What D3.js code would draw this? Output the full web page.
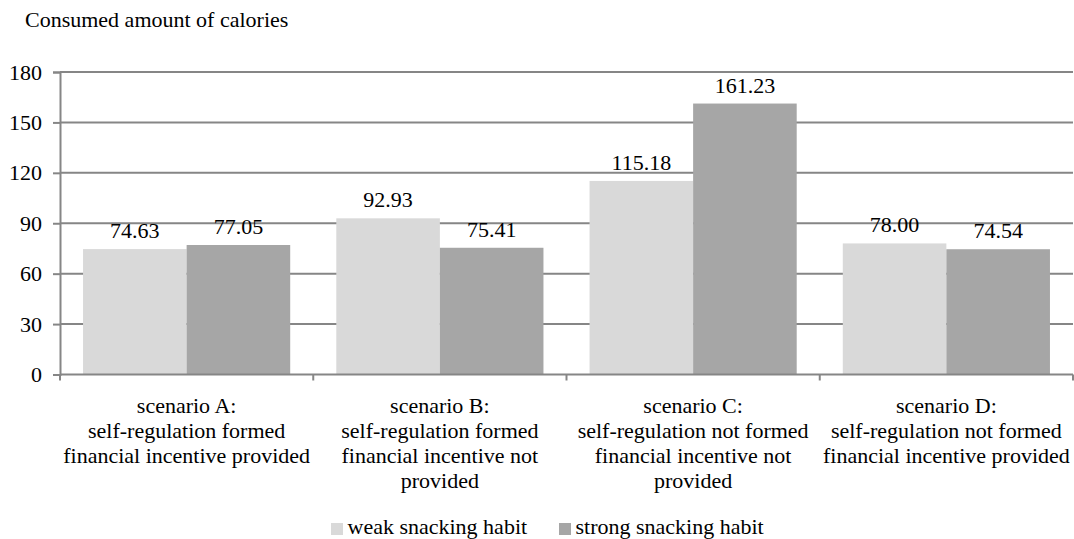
<!DOCTYPE html>
<html>
<head>
<meta charset="utf-8">
<script src="https://cdn.jsdelivr.net/npm/d3@7"></script>
<style>
  html, body { margin: 0; padding: 0; background: #fff; }
</style>
</head>
<body>
<svg id="chart" width="1074" height="539"></svg>
<script>
// Scenario categories (each label split into lines)
const categories = ["A", "B", "C", "D"];
const categoryLabels = [
  ["scenario A:", "self-regulation formed", "financial incentive provided"],
  ["scenario B:", "self-regulation formed", "financial incentive not", "provided"],
  ["scenario C:", "self-regulation not formed", "financial incentive not", "provided"],
  ["scenario D:", "self-regulation not formed", "financial incentive provided"]
];
const seriesNames = ["weak snacking habit", "strong snacking habit"];
const weakValues = [74.63, 92.93, 115.18, 78.00];
const strongValues = [77.05, 75.41, 161.23, 74.54];
const yTicks = [0, 30, 60, 90, 120, 150, 180];
const seriesColors = ["#d9d9d9", "#a6a6a6"];
const axisColor = "#868686";

const FONT = "'Liberation Serif'";
const fontSize = 22;
const svg = d3.select("#chart");
const plotLeft = 60, plotRight = 1073, plotTop = 72, plotBottom = 374.5;

const styleText = sel => sel.style("font-family", FONT).style("font-size", fontSize + "px").attr("fill", "#000");

const x0 = d3.scaleBand().domain(categories).range([plotLeft, plotRight]).padding(0);
const bw = x0.bandwidth();
const x1 = d3.scaleBand().domain(seriesNames).range([bw * 0.091, bw * 0.909]).padding(0);
const y = d3.scaleLinear().domain([0, 180]).range([plotBottom, plotTop]);

// horizontal gridlines
svg.append("g")
  .selectAll("line")
  .data(yTicks.filter(t => t > 0))
  .join("line")
  .attr("x1", plotLeft).attr("x2", plotRight)
  .attr("y1", d => y(d)).attr("y2", d => y(d))
  .attr("stroke", axisColor).attr("stroke-width", 2);

// y axis
const yAxis = d3.axisLeft(y).tickValues(yTicks).tickSize(7).tickPadding(11).tickFormat(d3.format("d"));
const gy = svg.append("g").attr("transform", `translate(${plotLeft},0)`).call(yAxis);
gy.select(".domain").attr("stroke", axisColor).attr("stroke-width", 2);
gy.selectAll(".tick line").attr("stroke", axisColor).attr("stroke-width", 2);
gy.selectAll(".tick text").call(styleText);

// bars
const rows = categories.map((c, i) => ({ cat: c, vals: [weakValues[i], strongValues[i]] }));
const groups = svg.append("g").selectAll("g")
  .data(rows)
  .join("g")
  .attr("transform", d => `translate(${x0(d.cat)},0)`);

groups.selectAll("rect")
  .data(d => d.vals.map((v, j) => ({ name: seriesNames[j], v, j })))
  .join("rect")
  .attr("x", d => x1(d.name))
  .attr("width", x1.bandwidth())
  .attr("y", d => y(d.v))
  .attr("height", d => y(0) - y(d.v))
  .attr("fill", d => seriesColors[d.j]);

// value labels
groups.selectAll("text.val")
  .data(d => d.vals.map((v, j) => ({ name: seriesNames[j], v, j })))
  .join("text")
  .attr("class", "val")
  .attr("x", d => x1(d.name) + x1.bandwidth() / 2)
  .attr("y", d => y(d.v) - 11)
  .attr("text-anchor", "middle")
  .call(styleText)
  .text(d => d.v.toFixed(2));

// x axis baseline with category-boundary ticks
svg.append("line")
  .attr("x1", plotLeft).attr("x2", plotRight)
  .attr("y1", y(0)).attr("y2", y(0))
  .attr("stroke", axisColor).attr("stroke-width", 2);
const boundaries = categories.map(c => x0(c)).concat([plotRight]);
svg.append("g").selectAll("line")
  .data(boundaries)
  .join("line")
  .attr("x1", d => d).attr("x2", d => d)
  .attr("y1", y(0)).attr("y2", y(0) + 6)
  .attr("stroke", axisColor).attr("stroke-width", 2);

// category labels
svg.append("g").selectAll("text")
  .data(categories.map((c, i) => ({ c, lines: categoryLabels[i] })))
  .join("text")
  .attr("text-anchor", "middle")
  .call(styleText)
  .each(function(d) {
    const t = d3.select(this);
    d.lines.forEach((ln, k) => {
      t.append("tspan")
        .attr("x", x0(d.c) + bw / 2)
        .attr("y", 412.5 + k * 25)
        .text(ln);
    });
  });

// title
svg.append("text")
  .attr("x", 25).attr("y", 27)
  .call(styleText)
  .text("Consumed amount of calories");

// legend
const legendItems = [
  { name: seriesNames[0], color: seriesColors[0], x: 331 },
  { name: seriesNames[1], color: seriesColors[1], x: 559 }
];
const lg = svg.append("g").selectAll("g").data(legendItems).join("g")
  .attr("transform", d => `translate(${d.x},0)`);
lg.append("rect").attr("x", 0).attr("y", 523).attr("width", 12).attr("height", 12).attr("fill", d => d.color);
lg.append("text").attr("x", 16.5).attr("y", 534).call(styleText).text(d => d.name);
</script>
</body>
</html>
